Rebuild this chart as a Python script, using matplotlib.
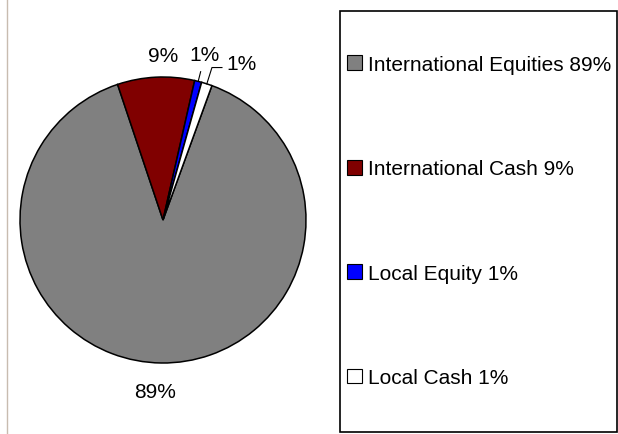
import matplotlib
matplotlib.use('Agg')
import numpy as np
import matplotlib.pyplot as plt
from matplotlib.patches import Rectangle
from matplotlib.lines import Line2D

labels = ['International Equities', 'International Cash', 'Local Equity', 'Local Cash']
values = [89.3, 8.7, 0.8, 1.2]
colors = ['#808080', '#800000', '#0000ff', '#ffffff']

plt.rcParams['font.family'] = ['Liberation Sans', 'DejaVu Sans']

fig = plt.figure(figsize=(6.18, 4.35), dpi=100)

# pie axes, centre ~ (163,220) px, radius ~143 px
W, H = 618.0, 435.0
cx, cy, R = 163, 221, 143
ax = fig.add_axes([(cx - R) / W, (H - cy - R) / H, 2 * R / W, 2 * R / H])
wedges, _ = ax.pie(values, colors=colors, startangle=70, counterclock=False,
                   wedgeprops=dict(edgecolor='black', linewidth=1.1),
                   radius=1.0)
ax.set_xlim(-1, 1)
ax.set_ylim(-1, 1)
ax.set_aspect('equal')
ax.axis('off')

# percentage labels outside the slices (small nudges per label)
nudge = [(-0.04, -0.03), (0.06, -0.02), (0.0, 0.02), (0.19, -0.02)]
for i, w in enumerate(wedges):
    mid = np.deg2rad((w.theta1 + w.theta2) / 2)
    r = 1.17
    x = r * np.cos(mid) + nudge[i][0]
    y = r * np.sin(mid) + nudge[i][1]
    ax.text(x, y, '%.0f%%' % values[i], ha='center', va='center', fontsize=15,
            clip_on=False)

# leader lines for the thin slices
m2 = np.deg2rad((wedges[2].theta1 + wedges[2].theta2) / 2)
ax.plot([np.cos(m2), 1.07 * np.cos(m2)], [np.sin(m2), 1.07 * np.sin(m2)],
        color='black', lw=0.8, clip_on=False)
m3 = np.deg2rad((wedges[3].theta1 + wedges[3].theta2) / 2)
ex, ey = 1.15 * np.cos(m3) - 0.01, 1.12 * np.sin(m3)
ax.plot([np.cos(m3), ex, ex + 0.07], [np.sin(m3), ey, ey],
        color='black', lw=0.8, clip_on=False)

# legend frame
fig.add_artist(Rectangle((340 / W, 1 - 433 / H), 277 / W, 421 / H,
                         transform=fig.transFigure, fill=False,
                         edgecolor='black', linewidth=1.2))
handles = [Rectangle((0, 0), 1, 1, facecolor=c, edgecolor='black', linewidth=0.8)
           for c in colors]
leg_labels = ['%s %.0f%%' % (l, v) for l, v in zip(labels, values)]
fig.legend(handles, leg_labels, loc='upper left',
           bbox_to_anchor=(347 / W, 1 - 56 / H), frameon=False,
           fontsize=15, handlelength=0.72, handleheight=0.72,
           handletextpad=0.3, labelspacing=4.1, borderpad=0, borderaxespad=0)

# thin border on the left edge
fig.add_artist(Line2D([7 / W, 7 / W], [0, 1], transform=fig.transFigure,
                      color='#c8bcb0', lw=1.0))

fig.savefig('out.png', dpi=100)
